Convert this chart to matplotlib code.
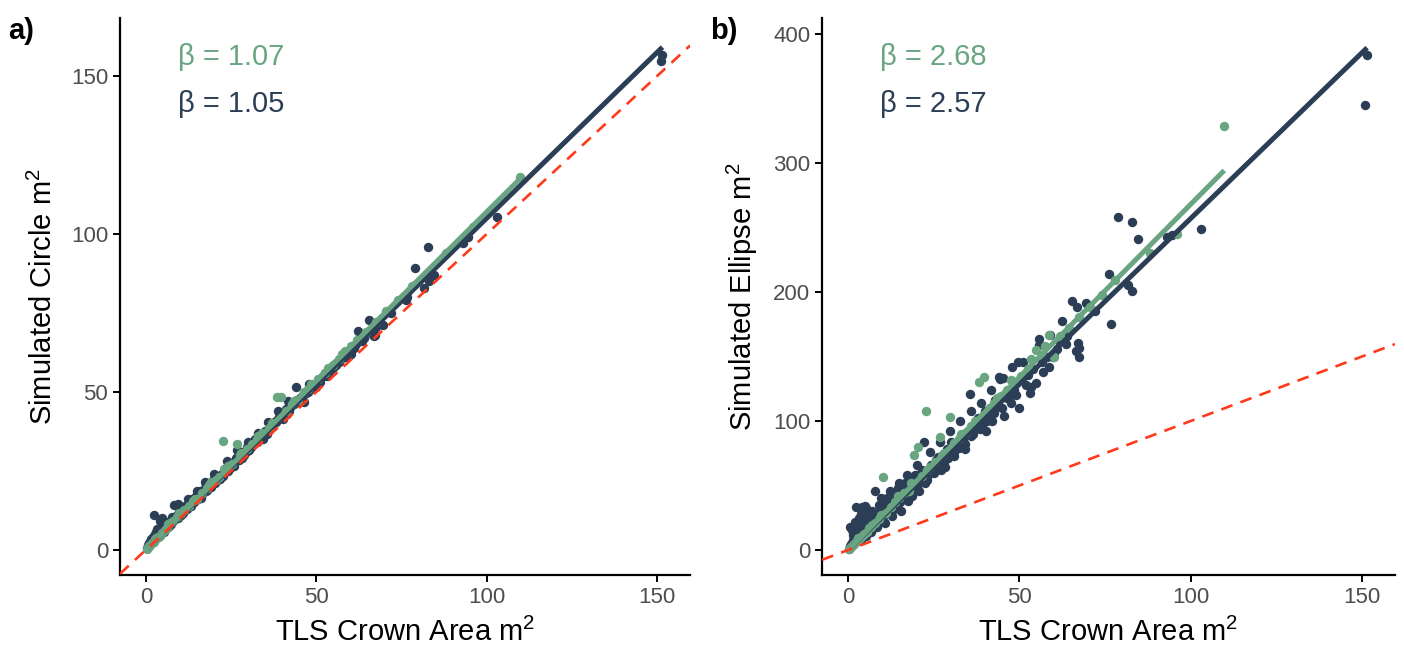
import numpy as np
import matplotlib
matplotlib.use("Agg")
import matplotlib.pyplot as plt

plt.rcParams['font.family'] = ['Liberation Sans', 'DejaVu Sans']
plt.rcParams['mathtext.fontset'] = 'custom'
plt.rcParams['mathtext.rm'] = 'Liberation Sans'
plt.rcParams['mathtext.it'] = 'Liberation Sans'

NAVY = '#2c3e56'
GREEN = '#6aa582'
RED = '#ff3a1a'

# navy group: TLS area, simulated circle, simulated ellipse
navy_x = [0.3, 0.5, 0.6, 0.8, 1.0, 1.1, 1.3, 1.5, 1.7, 1.9, 2.0, 2.2, 2.4, 2.5, 2.7, 2.9,
          3.1, 3.3, 3.5, 3.8, 4.0, 4.2, 4.5, 4.8, 5.0, 5.1, 5.4, 5.7, 6.0, 6.3, 6.6, 7.0,
          7.3, 7.7, 8.0, 8.2, 8.6, 9.0, 9.4, 9.8, 10.2, 10.6, 11.0, 11.5, 12.0, 12.5, 13.0,
          13.5, 14.0, 14.6, 15.2, 15.8, 16.5, 17.0, 17.7, 18.3, 19.0, 19.6, 20.2, 21.0, 21.7,
          22.2, 22.9, 23.5, 24.2, 25.0, 25.8, 26.5, 27.3, 28.0, 28.8, 29.5, 30.3, 31.0, 32.0,
          33.0, 34.0, 35.0, 35.5, 36.5, 37.5, 38.5, 39.5, 40.5, 41.5, 42.5, 43.5, 44.2, 45.3,
          46.5, 47.5, 48.5, 49.5, 51.0, 52.0, 53.4, 54.9, 55.6, 55.8, 57.0, 58.7, 59.0, 59.7,
          60.2, 61.0, 62.3, 63.5, 65.4, 66.5, 66.7, 67.0, 67.3, 67.4, 69.4, 72.0, 76.2, 76.6,
          78.8, 81.7, 82.8, 82.9, 84.6, 93.1, 94.6, 103.1, 151.0, 151.5,
          1.4, 2.1, 3.0, 3.7, 4.4, 5.2, 5.9, 6.8, 7.5, 8.4, 9.2, 10.0, 10.8, 11.8, 12.8,
          13.3, 14.3, 15.5, 16.2, 17.4, 18.0, 18.8, 19.9, 20.7, 21.3, 22.5, 23.2, 24.6, 25.4,
          26.2, 27.0, 27.7, 28.5, 29.2, 30.0, 30.8, 31.5, 32.5, 33.5, 34.5, 36.0, 37.0, 38.0,
          39.0, 40.0, 41.0, 42.0, 43.0, 44.8, 46.0, 47.0, 48.0, 49.0, 50.5, 52.5, 54.0, 56.5,
          58.0, 61.5, 64.0,
          9.5, 12.2, 15.0, 17.2, 20.0, 23.8, 26.8, 29.8, 32.8, 35.8, 38.8, 41.8, 44.0, 47.8,
          50.0, 53.0, 45.5, 40.2, 34.2, 28.2]
navy_circle = [0.5, 1.0, 1.5, 1.2, 2.0, 1.8, 2.5, 2.0, 3.0, 2.4, 4.0, 3.0, 11.1, 3.5, 5.0, 3.6,
               4.2, 6.5, 4.0, 5.5, 9.0, 4.8, 5.8, 10.0, 6.0, 8.0, 6.2, 7.5, 6.8, 8.5, 7.2, 9.0,
               8.0, 10.5, 9.0, 14.2, 9.6, 11.0, 10.2, 12.0, 11.0, 13.5, 12.0, 14.0, 13.0, 15.5, 14.0,
               16.0, 15.0, 17.0, 16.0, 18.5, 17.5, 19.0, 18.5, 21.0, 20.0, 22.0, 21.0, 23.5, 22.5,
               24.0, 24.5, 26.0, 25.0, 27.5, 26.5, 29.0, 28.5, 31.0, 30.0, 32.5, 31.5, 33.0, 35.0,
               34.5, 36.0, 37.5, 36.5, 39.0, 40.5, 41.0, 42.0, 43.5, 43.0, 45.5, 46.0, 47.5, 48.0,
               46.9, 50.0, 51.0, 52.0, 53.0, 55.0, 56.0, 57.5, 59.0, 58.5, 60.0, 61.0, 62.5, 61.5,
               62.0, 64.0, 69.3, 66.0, 72.8, 68.0, 70.0, 67.5, 68.0, 70.5, 71.0, 75.0, 78.9, 80.0,
               89.3, 83.0, 95.8, 85.0, 87.0, 97.0, 99.0, 105.4, 154.7, 156.6,
               3.5, 2.8, 5.5, 4.5, 6.5, 5.5, 8.0, 7.5, 9.5, 10.0, 10.5, 12.5, 11.5, 13.5, 14.5,
               14.0, 16.5, 17.0, 16.5, 19.5, 19.0, 20.5, 21.5, 22.0, 23.0, 23.5, 25.5, 26.0, 27.0,
               28.0, 29.5, 29.0, 30.5, 31.0, 32.0, 32.5, 34.0, 34.0, 36.0, 37.0, 38.0, 39.0, 40.5,
               42.0, 42.5, 44.5, 44.0, 46.5, 47.0, 49.0, 49.5, 51.5, 52.0, 53.5, 56.0, 57.0, 59.5,
               61.0, 65.0, 67.0,
               14.5, 16.0, 18.5, 21.5, 24.0, 28.0, 31.5, 34.0, 37.0, 40.5, 44.0, 47.0, 51.5, 52.5,
               51.5, 55.0, 47.0, 41.5, 35.0, 29.0]
navy_ellipse = [1, 3, 18, 5, 4, 15.5, 8, 6, 10, 22, 12, 7, 33.6, 9, 20, 14,
                25, 11, 16, 28, 33, 13, 19, 34, 22, 32.3, 15, 24, 18, 27, 21, 30,
                17, 26, 45.7, 23, 29, 35, 22, 31, 38, 27, 33, 40, 29, 36, 44,
                32, 39, 48, 37, 43, 52, 40, 47, 55, 45, 58, 50, 56, 62,
                84, 54, 63, 66, 60, 70, 65, 72, 68, 78, 74, 80, 76, 84,
                88, 82, 92, 121, 90, 98, 94, 104, 100, 110, 106, 112, 132.6, 133.6,
                118, 114, 124, 146, 146, 128, 126.6, 129.2, 163.3, 159, 138, 142, 167, 149.8,
                152.5, 156, 177.8, 160, 193.3, 154.5, 188.6, 160.2, 149.8, 156.4, 191.2, 185, 214, 175.2,
                258.4, 205.4, 200.8, 254, 241, 242.9, 244.2, 248.6, 345, 383.7,
                12, 17, 21, 8, 26, 11, 20, 14, 23, 18, 28, 24, 21, 30, 26,
                36, 34, 30, 46, 38, 50, 42, 54, 46, 60, 52, 58, 61, 64,
                72, 62, 70, 74, 71, 84, 73, 82, 79, 86, 90, 88, 95, 102,
                96, 108, 104, 100, 116, 110, 122, 118, 128, 120, 132, 136, 140, 146,
                150, 162, 166,
                40, 46, 52, 58, 66, 76, 84, 92, 100, 108, 114, 124, 134, 142,
                110, 122, 104, 92, 78, 64]

# green group
green_x = [0.2, 0.5, 0.9, 1.3, 1.8, 2.3, 2.8, 3.4, 4.0, 4.7, 5.5, 6.2, 7.0, 8.0, 9.0, 10.3,
           11.2, 12.5, 13.8, 15.0, 16.4, 17.8, 19.2, 20.4, 21.5, 22.6, 24.0, 25.3, 26.7, 28.0,
           29.7, 31.0, 32.5, 34.0, 36.0, 38.3, 39.7, 41.0, 42.7, 44.5, 46.5, 48.5, 50.5, 52.5,
           54.8, 56.5, 58.5, 60.2, 62.0, 64.5, 67.5, 70.5, 74.0, 78.0, 88.0, 96.0, 109.8,
           3.0, 6.6, 9.6, 14.5, 18.5, 23.0, 27.5, 33.0, 37.0, 43.5, 47.5, 53.5, 57.5]
green_circle = [0.3, 0.8, 1.2, 1.6, 2.2, 2.6, 3.3, 3.9, 4.5, 5.3, 6.3, 7.0, 8.5, 9.0, 10.5, 11.5,
                12.5, 14.0, 15.5, 16.0, 18.0, 19.5, 21.5, 22.0, 23.0, 34.3, 26.5, 27.0, 33.4, 30.5,
                32.0, 33.5, 35.0, 37.0, 38.5, 48.5, 48.3, 44.0, 46.0, 47.5, 50.0, 52.5, 54.0, 56.0,
                58.5, 60.5, 63.0, 64.5, 66.5, 69.0, 72.0, 75.5, 79.0, 83.5, 94.0, 102.0, 118.0,
                3.6, 8.0, 11.5, 16.0, 20.5, 25.5, 30.0, 36.0, 40.0, 47.0, 51.0, 57.5, 62.0]
green_ellipse = [0.5, 1.5, 2.5, 4, 5, 6.5, 8, 9, 11, 12.5, 14, 17, 19, 21, 24, 56.3,
                 29, 33, 37, 40, 44, 46, 73.6, 80, 57, 108, 64, 68, 87.8, 75,
                 103, 83, 86, 91, 96, 130.5, 134.3, 109, 113.7, 119, 124, 130, 135, 140,
                 155, 151, 166.7, 149.8, 166, 172, 181, 188, 198, 209, 230, 245, 329,
                 9.5, 18, 27, 42, 52, 62, 74, 90, 100, 118, 132, 148, 158]

beta_circle = {'green': 1.07, 'navy': 1.05}
beta_ellipse = {'green': 2.68, 'navy': 2.57}

fig = plt.figure(figsize=(14.04, 6.53), dpi=100)
ax_a = fig.add_axes([0.0855, 0.1194, 0.406, 0.853])
ax_b = fig.add_axes([0.5855, 0.1194, 0.408, 0.853])


def draw_panel(ax, navy_y, green_y, betas, ylabel, yticks, ylim):
    ax.scatter(navy_x, navy_y, s=46, color=NAVY, linewidths=0, zorder=2)
    ax.scatter(green_x, green_y, s=46, color=GREEN, linewidths=0, zorder=2)
    xn = np.array([min(navy_x), max(navy_x)])
    xg = np.array([min(green_x), max(green_x)])
    ax.plot(xn, betas['navy'] * xn, color=NAVY, lw=3.6, solid_capstyle='butt', zorder=3)
    ax.plot(xg, betas['green'] * xg, color=GREEN, lw=3.6, solid_capstyle='butt', zorder=4)
    ax.set_xlim(-7.6, 159.6)
    ax.set_ylim(*ylim)
    ax.axline((0, 0), slope=1, color=RED, lw=1.9, ls=(0, (4.5, 3.2)), zorder=5)

    ax.text(0.102, 0.93, 'β = %.2f' % betas['green'], color=GREEN, fontsize=21,
            transform=ax.transAxes, va='center')
    ax.text(0.102, 0.846, 'β = %.2f' % betas['navy'], color=NAVY, fontsize=21,
            transform=ax.transAxes, va='center')

    ax.set_xticks([0, 50, 100, 150])
    ax.set_yticks(yticks)
    ax.set_xlabel(r'TLS Crown Area m$^{2}$', fontsize=21, labelpad=7)
    ax.set_ylabel(ylabel, fontsize=21, labelpad=9)
    for s in ['top', 'right']:
        ax.spines[s].set_visible(False)
    for s in ['left', 'bottom']:
        ax.spines[s].set_linewidth(1.6)
    ax.tick_params(labelsize=16, labelcolor='#4d4d4d', width=1.4, length=5)


draw_panel(ax_a, navy_circle, green_circle, beta_circle,
           r'Simulated Circle m$^{2}$', [0, 50, 100, 150], (-8, 168.3))
draw_panel(ax_b, navy_ellipse, green_ellipse, beta_ellipse,
           r'Simulated Ellipse m$^{2}$', [0, 100, 200, 300, 400], (-19.4, 412.4))

fig.text(0.006, 0.953, 'a)', fontsize=21, fontweight='bold', va='center')
fig.text(0.506, 0.953, 'b)', fontsize=21, fontweight='bold', va='center')

fig.savefig('out.png', dpi=100)
